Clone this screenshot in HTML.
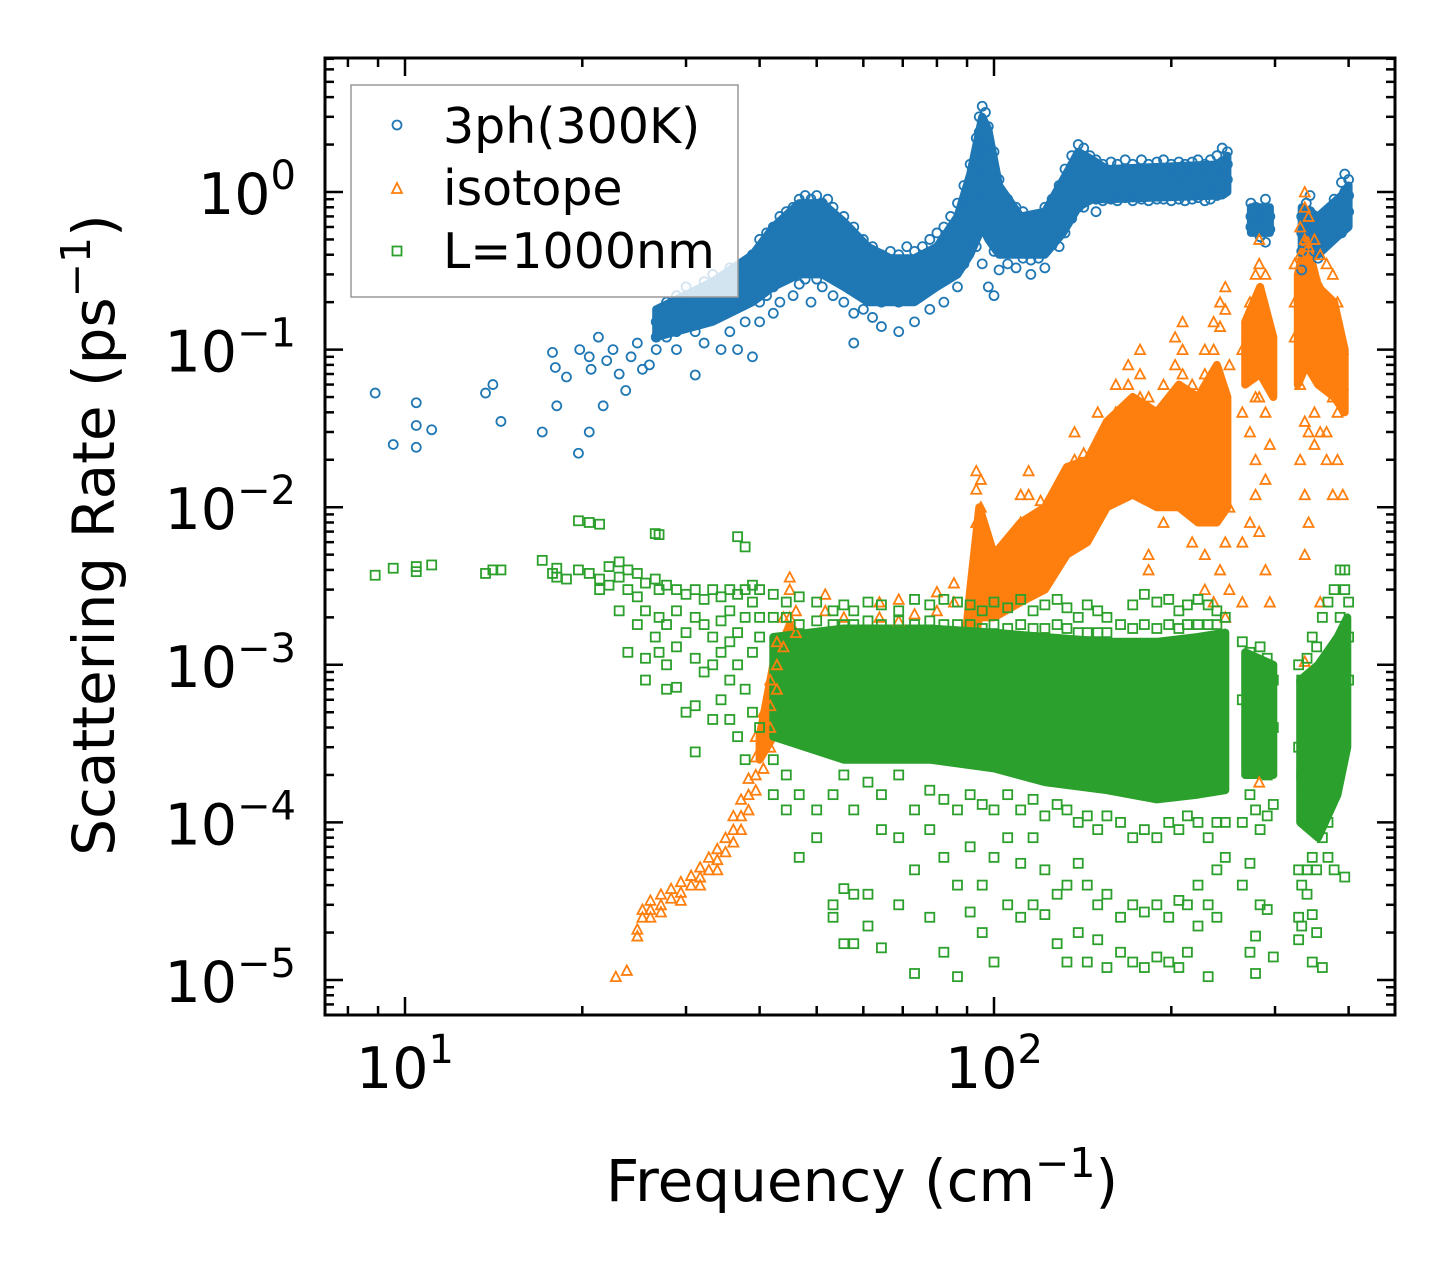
<!DOCTYPE html>
<html><head><meta charset="utf-8"><style>
html,body{margin:0;padding:0;background:#fff}
svg{display:block;font-family:"DejaVu Sans","Liberation Sans",sans-serif}
</style></head><body>
<svg id="chart" width="1455" height="1265" viewBox="0 0 1455 1265" xmlns="http://www.w3.org/2000/svg">
<rect width="1455" height="1265" fill="#fff"/>
<g id="cores"></g>
<g id="marks"></g>
<g id="ticks"></g>
<rect x="325" y="58" width="1070" height="957" fill="none" stroke="#000" stroke-width="3"/>
<g id="labels"></g>
<text x="862" y="1201" text-anchor="middle" font-size="58">Frequency (cm<tspan font-size="41" dy="-24">−1</tspan><tspan dy="24">)</tspan></text>
<text transform="translate(114,535) rotate(-90)" text-anchor="middle" font-size="58">Scattering Rate (ps<tspan font-size="41" dy="-24">−1</tspan><tspan dy="24">)</tspan></text>
<g>
<rect x="351" y="85" width="387" height="212" fill="#fff" fill-opacity="0.8" stroke="#999" stroke-width="1.5"/>
<circle cx="397" cy="125" r="4.5" fill="none" stroke="#1f77b4" stroke-width="1.8"/>
<text x="443" y="143" font-size="49">3ph(300K)</text>
<path d="M397,183 L402,193 L392,193 Z" fill="none" stroke="#ff7f0e" stroke-width="1.8"/>
<text x="443" y="205" font-size="49">isotope</text>
<rect x="392.5" y="246.5" width="9" height="9" fill="none" stroke="#2ca02c" stroke-width="1.8"/>
<text x="443" y="268" font-size="49">L=1000nm</text>
</g>
</svg>
<script>
const xTickValues=[10,100];
const xTickLabels=["1","2"];
const yTickValues=[1,0.1,0.01,0.001,0.0001,0.00001];
const yTickLabels=["0","−1","−2","−3","−4","−5"];

const blueCore1=[[26.7,0.12,0.18],[33.3,0.15,0.27],[38.9,0.2,0.4],[42.2,0.25,0.6],[46.7,0.3,0.85],[51.1,0.3,0.85],[55.6,0.25,0.65],[61.1,0.2,0.45],[66.7,0.2,0.38],[73.3,0.2,0.38],[80,0.25,0.45],[86.7,0.3,0.7],[91.1,0.4,1.3],[95.5,0.6,3.0],[97.8,0.5,2.5],[102,0.4,1.1],[111,0.4,0.7],[122,0.4,0.75],[131,0.55,1.2],[139,0.8,1.8],[147,0.9,1.6],[155.5,0.9,1.4],[244,0.95,1.5],[249,1.0,1.7]];
const blueCore2=[[273,0.55,0.8],[294,0.55,0.8]];
const blueCore3=[[333,0.4,0.8],[355,0.4,0.7],[389,0.55,0.95],[400,0.6,1.1]];
const orangeCore1=[[40,2.5e-4,3.5e-4],[42.2,3.5e-4,1e-3],[45,4.5e-4,1.8e-3],[49,4.5e-4,1.1e-3],[66.7,4.5e-4,1.1e-3],[89,5e-4,1.2e-3],[91.1,1e-3,3e-3],[94.4,2e-3,1e-2],[100,2e-3,5e-3],[111,2.5e-3,8e-3],[122,3e-3,1e-2],[133,5e-3,1.8e-2],[144,6e-3,2e-2],[155.5,1e-2,3.5e-2],[172,1.2e-2,5e-2],[189,1e-2,4e-2],[206,1e-2,6e-2],[222,8e-3,5e-2],[239,8e-3,8e-2],[249,1e-2,5e-2]];
const orangeCore2=[[267,0.06,0.15],[283,0.07,0.25],[298,0.05,0.12]];
const orangeCore3=[[328,0.06,0.3],[339,0.08,0.5],[355,0.06,0.25],[378,0.05,0.2],[394,0.04,0.1]];
const greenCore1=[[42.2,3.5e-4,1.5e-3],[55.6,2.5e-4,1.7e-3],[77.8,2.5e-4,1.7e-3],[100,2.2e-4,1.6e-3],[122,1.8e-4,1.5e-3],[155.5,1.6e-4,1.4e-3],[189,1.4e-4,1.4e-3],[222,1.5e-4,1.5e-3],[247,1.6e-4,1.6e-3]];
const greenCore2=[[267,2e-4,1.2e-3],[298,2e-4,1e-3]];
const greenCore3=[[331,1e-4,8e-4],[355,8e-5,1e-3],[383,1.5e-4,1.5e-3],[398,3e-4,2e-3]];

const blue3ph=[[8.9,[0.053]],[9.55,[0.025]],[10.45,[0.046,0.033,0.024]],[11.1,[0.031]],[13.7,[0.053]],[14.1,[0.06]],[14.55,[0.035]],[17.1,[0.03]],[17.8,[0.096]],[18,[0.077]],[18.1,[0.044]],[18.8,[0.067]],[19.7,[0.022]],[19.8,[0.1]],[20.55,[0.03,0.09]],[20.7,[0.075]],[21.3,[0.12]],[21.7,[0.044]],[22,[0.085]],[22.55,[0.1]],[23.1,[0.07]],[23.7,[0.055]],[24.2,[0.09]],[24.8,[0.11]],[25.3,[0.075]],[26,[0.08]],
[26.7,[0.15,0.12,0.1]],[27.8,[0.2,0.15,0.12]],[28.9,[0.22,0.17,0.13,0.1]],[30,[0.25,0.19,0.14]],[31.1,[0.22,0.17,0.13,0.069]],[32.2,[0.27,0.2,0.15,0.11]],[33.3,[0.3,0.23,0.17]],[34.4,[0.28,0.21,0.1]],[35.6,[0.33,0.25,0.18,0.13]],[36.7,[0.3,0.22,0.1]],[37.8,[0.35,0.27,0.2,0.15]],[38.9,[0.4,0.3,0.22,0.09]],[40,[0.5,0.38,0.28,0.2,0.15]],[41.1,[0.55,0.42,0.3,0.22]],[42.2,[0.6,0.45,0.33,0.25,0.17]],[43.3,[0.7,0.52,0.38,0.28,0.2]],[44.4,[0.75,0.57,0.42,0.3]],[45.6,[0.8,0.6,0.45,0.33,0.22]],[46.7,[0.9,0.68,0.5,0.37,0.26]],[47.8,[0.95,0.72,0.54,0.4,0.28]],[48.9,[0.9,0.7,0.52,0.38,0.2]],[50,[0.95,0.75,0.55,0.4,0.28]],[51.1,[0.85,0.65,0.5,0.36,0.25]],[52.2,[0.9,0.7,0.52,0.38]],[53.3,[0.8,0.6,0.45,0.32,0.22]],[55.6,[0.7,0.53,0.4,0.3,0.2]],[57.8,[0.6,0.45,0.34,0.26,0.17,0.11]],[60,[0.5,0.4,0.31,0.24,0.18]],[62.2,[0.45,0.36,0.28,0.22,0.16]],[64.4,[0.4,0.32,0.26,0.2,0.14]],[66.7,[0.42,0.33,0.27,0.21]],[68.9,[0.4,0.32,0.26,0.2,0.13]],[71.1,[0.45,0.36,0.29,0.23]],[73.3,[0.42,0.34,0.27,0.21,0.15]],[75.6,[0.45,0.36,0.29,0.23]],[77.8,[0.5,0.4,0.32,0.25,0.18]],[80,[0.55,0.43,0.34,0.27]],[82.2,[0.6,0.47,0.36,0.28,0.2]],[84.4,[0.7,0.55,0.42,0.32]],[86.7,[0.85,0.65,0.5,0.38,0.25]],[88.9,[1.1,0.85,0.65,0.48,0.35]],[91.1,[1.5,1.15,0.85,0.62,0.45]],[93.3,[2.2,1.7,1.25,0.9,0.65,0.45]],[94.4,[3.0,2.4,1.8,1.3,0.9,0.6]],[95.5,[3.5,2.8,2.1,1.5,1.05,0.7,0.35]],[96.7,[3.2,2.5,1.9,1.4,1.0,0.7]],[97.8,[2.6,2.0,1.5,1.1,0.8,0.55,0.25]],[100,[1.8,1.4,1.05,0.8,0.6,0.42,0.22]],[102,[1.2,0.95,0.75,0.58,0.45,0.32]],[105.5,[0.9,0.72,0.57,0.45,0.35]],[109,[0.8,0.65,0.52,0.42,0.33]],[112,[0.75,0.6,0.48,0.38]],[115.5,[0.7,0.57,0.46,0.37,0.3]],[119,[0.72,0.58,0.47,0.38]],[122,[0.8,0.65,0.52,0.42,0.33]],[125.5,[0.9,0.72,0.58,0.46]],[129,[1.1,0.88,0.7,0.56,0.45]],[132,[1.4,1.1,0.88,0.7,0.55]],[135.5,[1.7,1.35,1.05,0.85,0.68]],[139,[2.0,1.6,1.25,1.0,0.8]],[142,[1.9,1.55,1.25,1.0,0.8]],[145.5,[1.7,1.4,1.15,0.95]],[149,[1.6,1.35,1.1,0.9,0.75]],[153,[1.5,1.25,1.05,0.88]],[158,[1.55,1.3,1.1,0.9]],[162,[1.5,1.25,1.05,0.88]],[167,[1.6,1.35,1.1,0.92]],[172,[1.5,1.25,1.05,0.88]],[178,[1.6,1.3,1.1,0.9]],[183,[1.5,1.25,1.05,0.88]],[189,[1.55,1.3,1.08,0.9]],[194,[1.6,1.32,1.1,0.9]],[200,[1.5,1.25,1.05,0.88]],[206,[1.55,1.3,1.1,0.9]],[211,[1.5,1.25,1.05,0.88]],[217,[1.55,1.28,1.08,0.9]],[222,[1.6,1.3,1.1,0.92]],[228,[1.5,1.25,1.05,0.88]],[233,[1.6,1.32,1.1,0.9]],[239,[1.7,1.4,1.15,0.95]],[244,[1.9,1.55,1.25,1.0]],[249,[1.8,1.5,1.2]],
[273,[0.85,0.7,0.6]],[278,[0.8,0.68,0.58]],[283,[0.75,0.62,0.52]],[289,[0.9,0.7,0.58,0.48]],[294,[0.7,0.58]],[333,[0.7,0.55,0.42,0.32]],[339,[0.85,0.65,0.5]],[344,[0.95,0.75,0.58,0.45]],[350,[0.7,0.55,0.42]],[355,[0.6,0.48,0.38]],[367,[0.75,0.6,0.48]],[378,[0.9,0.7,0.55]],[389,[1.15,0.9,0.7,0.55]],[394,[1.3,1.0,0.78,0.6]],[400,[1.2,0.95,0.75]]];

const orangeIso=[[22.8,[1.05e-5]],[23.8,[1.15e-5]],[24.8,[1.9e-5,2.1e-5]],[25.3,[2.5e-5,2.8e-5]],[26.1,[2.8e-5,3.2e-5,2.5e-5]],[27.2,[3e-5,3.5e-5,2.7e-5]],[28.3,[3.3e-5,3.8e-5]],[29.4,[3.6e-5,4.2e-5,3.2e-5]],[30.6,[4e-5,4.6e-5]],[31.7,[4.5e-5,5.2e-5,4e-5]],[32.8,[5e-5,6e-5]],[33.9,[5.8e-5,6.8e-5,5e-5]],[35,[6.5e-5,8e-5]],[36.1,[7.5e-5,9e-5,1.1e-4]],[37.2,[9e-5,1.1e-4,1.4e-4]],[38.3,[1.2e-4,1.5e-4,1.9e-4]],[39.4,[1.6e-4,2e-4,2.6e-4,3.5e-4]],[40.6,[2.2e-4,3e-4,4e-4,5e-4]],[41.7,[3e-4,4e-4,5.5e-4,8e-4]],[42.8,[7e-4,1e-3,1.4e-3]],[43.9,[1.3e-3,2e-3]],[45,[2e-3,3e-3,3.6e-3]],[46.1,[2.2e-3,1.6e-3]],[51.7,[2.8e-3,2.2e-3]],[55.6,[2e-3]],[63.9,[2.5e-3,2e-3]],[68.9,[2.6e-3,1.9e-3]],[73.3,[2.1e-3]],[80,[2.9e-3,2.2e-3]],[85.5,[3.3e-3,2.5e-3]],[93.3,[1.7e-2,1.3e-2,8e-3]],[95,[1.5e-2,1e-2]],[97.8,[6e-3,4e-3]],[105.5,[6e-3,4.5e-3]],[111,[1.2e-2,8e-3]],[114.5,[1.7e-2,1.2e-2]],[120,[1.1e-2,7e-3]],[128,[1.4e-2,9e-3]],[137,[3e-2,2e-2]],[142,[2.2e-2,1.6e-2]],[150,[4e-2,2.5e-2]],[161,[6e-2,4e-2]],[169,[8e-2,6e-2]],[177,[0.1,0.07,0.05]],[183,[5e-2,3e-2,5e-3,4e-3]],[194,[6e-2,3e-2,8e-3]],[203,[0.12,0.08]],[209,[0.15,0.1,0.07]],[217,[0.06,0.04,6e-3]],[228,[0.1,0.07,5e-3,3e-3]],[236,[0.15,0.1,2.5e-3]],[242,[0.2,0.14,4e-3]],[247,[0.25,0.18,2e-3,6e-3]],[251,[0.08,0.01,3e-3]],[264,[0.1,0.04,2.5e-3,6e-3]],[272,[0.2,0.1,0.03,8e-3]],[278,[0.3,0.15,0.05,0.02,0.012]],[282,[0.5,0.35,0.2,0.05,7e-3,1.8e-4]],[289,[0.3,0.15,0.04,0.015,4e-3]],[294,[0.12,0.08,0.025,2.5e-3]],[324,[0.35,0.2,0.12]],[331,[0.6,0.4,0.25,0.06,0.02]],[337,[1.0,0.8,0.5,0.15,0.035,0.012,5e-3,1.05e-3]],[342,[0.7,0.45,0.2,0.03,8e-3]],[350,[0.5,0.3,0.12,0.04,0.025]],[358,[0.4,0.25,0.1,0.03,2.5e-3]],[367,[0.35,0.2,0.07,0.03,0.02]],[376,[0.3,0.15,0.05,0.012]],[383,[0.2,0.12,0.04,0.02]],[391,[0.1,0.06,0.012]]];

const greenBdy=[[8.9,[3.7e-3]],[9.55,[4.1e-3]],[10.45,[3.9e-3,4.2e-3]],[11.1,[4.3e-3]],[13.7,[3.8e-3]],[14.1,[4e-3]],[14.55,[4e-3]],[17.1,[4.6e-3]],[17.8,[3.8e-3]],[18.1,[4.1e-3,3.6e-3]],[18.8,[3.5e-3]],[19.7,[8.2e-3,4e-3]],[20.55,[8e-3,3.8e-3]],[21.4,[7.8e-3,3.5e-3,3e-3]],[22.2,[4.2e-3,3.2e-3]],[23.1,[4.5e-3,3.6e-3,2.2e-3]],[23.9,[4e-3,3e-3,1.2e-3]],[24.8,[3.8e-3,2.7e-3,1.8e-3]],[25.6,[3.3e-3,2.2e-3,1.1e-3,8e-4]],[26.6,[6.8e-3,3.5e-3,1.5e-3]],[27,[6.7e-3,3e-3,2e-3,1.2e-3]],[27.8,[3.2e-3,1.8e-3,1e-3,7e-4]],[28.9,[3e-3,2.2e-3,1.3e-3,7.2e-4]],[30,[2.8e-3,1.6e-3,5e-4]],[31.1,[3e-3,2e-3,1.1e-3,5.5e-4,2.8e-4]],[32.2,[2.6e-3,1.8e-3,9e-4]],[33.3,[3e-3,1.5e-3,1e-3,4.5e-4]],[34.4,[2.7e-3,1.9e-3,1.2e-3,6e-4]],[35.6,[3e-3,2.2e-3,1.4e-3,8e-4,4.5e-4]],[36.7,[6.5e-3,2.8e-3,1.6e-3,1e-3,3.5e-4]],[37.8,[5.6e-3,3e-3,2e-3,7e-4,2.5e-4]],[38.9,[3.2e-3,2.5e-3,1.2e-3,5e-4]],[40,[3e-3,2e-3,1.5e-3,4e-4]],[42.2,[2.8e-3,2e-3,2.5e-4,1.5e-4]],[44.4,[2.5e-3,2e-3,2e-4,1.2e-4]],[46.7,[2.7e-3,1.8e-3,1.5e-4,6e-5]],[50,[2.5e-3,1.9e-3,1.2e-4,8e-5]],[53.3,[2.2e-3,1.8e-3,1.5e-4,3e-5,2.5e-5]],[55.6,[2.4e-3,1.8e-3,2e-4,1.7e-5,3.8e-5]],[57.8,[2.2e-3,1.8e-3,1.2e-4,3.5e-5,1.7e-5]],[61.1,[2.5e-3,1.9e-3,1.8e-4,2.2e-5,3.5e-5]],[64.4,[2.4e-3,1.8e-3,1.5e-4,9e-5,1.6e-5]],[68.9,[2.2e-3,1.9e-3,2e-4,8e-5,3e-5]],[73.3,[2.6e-3,1.8e-3,1.2e-4,5e-5,1.1e-5]],[77.8,[2.4e-3,1.9e-3,1.6e-4,9e-5,2.5e-5]],[82.2,[2.6e-3,1.8e-3,1.4e-4,6e-5,1.5e-5]],[86.7,[2.5e-3,1.8e-3,1.2e-4,4e-5,1.05e-5]],[91.1,[2.4e-3,1.8e-3,1.5e-4,7e-5,2.7e-5]],[95.5,[2.2e-3,1.7e-3,1.3e-4,4e-5,2e-5]],[100,[2.5e-3,1.8e-3,1.2e-4,6e-5,1.3e-5]],[105.5,[2.3e-3,1.7e-3,1.5e-4,8e-5,3e-5]],[111,[2.6e-3,1.8e-3,1.2e-4,5.5e-5,2.5e-5]],[116.5,[2.2e-3,1.7e-3,1.4e-4,8e-5,3e-5]],[122,[2.4e-3,1.7e-3,1.1e-4,5e-5,2.6e-5]],[128,[2.6e-3,1.8e-3,1.3e-4,3.5e-5,1.7e-5]],[133,[2.3e-3,1.7e-3,1.2e-4,4e-5,1.3e-5]],[139,[2e-3,1.6e-3,1e-4,5.5e-5,2e-5]],[144,[2.4e-3,1.6e-3,1.1e-4,4e-5,1.3e-5]],[150,[2.2e-3,1.6e-3,9e-5,3e-5,1.8e-5]],[155.5,[2e-3,1.6e-3,1.1e-4,3.5e-5,1.2e-5]],[164,[1.8e-3,1e-4,2.5e-5,1.5e-5]],[172,[2.4e-3,1.7e-3,8e-5,3e-5,1.3e-5]],[180,[2.8e-3,1.8e-3,9e-5,2.7e-5,1.2e-5]],[189,[2.5e-3,1.7e-3,8e-5,3e-5,1.4e-5]],[198,[2.6e-3,1.8e-3,1e-4,2.5e-5,1.3e-5]],[206,[2.2e-3,1.7e-3,9e-5,3.2e-5,1.2e-5]],[213,[2.4e-3,1.8e-3,1.1e-4,3e-5,1.5e-5]],[222,[2.6e-3,1.8e-3,1e-4,4e-5,2.2e-5]],[231,[2.4e-3,1.8e-3,8e-5,3e-5,1.05e-5]],[239,[2.2e-3,1.8e-3,1e-4,5e-5,2.5e-5]],[247,[2e-3,1e-4,6e-5]],[264,[1.4e-3,6e-4,1e-4,4e-5]],[272,[1.2e-3,4e-4,1.5e-4,5.5e-5,1.5e-5]],[278,[1e-3,3e-4,1.2e-4,1.9e-5,1.1e-5]],[283,[1.3e-3,2.5e-4,9e-5,3e-5]],[291,[1.1e-3,2e-4,1.1e-4,2.8e-5]],[298,[8e-4,4e-4,1.3e-4,1.4e-5]],[329,[1e-3,3e-4,5e-5,2.5e-5,1.8e-5]],[333,[8e-4,2e-4,4e-5,2.2e-5]],[340,[1.1e-3,1.5e-4,5e-5,3.5e-5]],[347,[1.5e-3,2.5e-4,6e-5,2.6e-5,1.3e-5]],[353,[1.3e-3,2e-4,5e-5,2e-5]],[361,[2e-3,3e-4,8e-5,1.2e-5]],[369,[2.5e-3,4e-4,1e-4,6e-5]],[378,[3e-3,5e-4,1.5e-4,5e-5]],[387,[4e-3,2e-3,5e-4,2.5e-4]],[394,[4e-3,3e-3,1e-3,4e-4,4.5e-5]],[400,[2.5e-3,1.5e-3,8e-4]]];

const NS="http://www.w3.org/2000/svg";
const X0=405, XD=589, Y0=192, YD=157.6, L=325, R=1395, T=58, B=1015;
function X(f){return X0+XD*(Math.log10(f)-1);}
function Y(r){return Y0-YD*Math.log10(r);}
function mk(tag,parent){const e=document.createElementNS(NS,tag);parent.appendChild(e);return e;}
const cores=document.getElementById('cores'), marks=document.getElementById('marks'), ticks=document.getElementById('ticks'), labels=document.getElementById('labels');

function drawCore(arr,color,name){
  const top=arr.map(d=>X(d[0]).toFixed(1)+','+Y(d[2]).toFixed(1));
  const bot=arr.slice().reverse().map(d=>X(d[0]).toFixed(1)+','+Y(d[1]).toFixed(1));
  const p=mk('polygon',cores);
  p.setAttribute('points',top.concat(bot).join(' '));
  p.setAttribute('fill',color);p.setAttribute('stroke',color);p.setAttribute('stroke-width','8');p.setAttribute('stroke-linejoin','round');
  
  
}
function drawSeries(data,kind,color,name){
  const g=mk('g',marks);
  
  
  g.setAttribute('fill','none');g.setAttribute('stroke',color);g.setAttribute('stroke-width','1.8');
  data.forEach(col=>{col[1].forEach(v=>{
    const x=X(col[0]), y=Y(v); let e;
    if(kind==='c'){e=mk('circle',g);e.setAttribute('cx',x);e.setAttribute('cy',y);e.setAttribute('r',4.5);}
    else if(kind==='t'){e=mk('path',g);e.setAttribute('d',`M${x},${y-5}L${x+5},${y+4.5}L${x-5},${y+4.5}Z`);}
    else {e=mk('rect',g);e.setAttribute('x',x-4.5);e.setAttribute('y',y-4.5);e.setAttribute('width',9);e.setAttribute('height',9);}
    
    
  });});
}
drawCore(blueCore1,'#1f77b4','blue-core-1');drawCore(blueCore2,'#1f77b4','blue-core-2');drawCore(blueCore3,'#1f77b4','blue-core-3');
drawSeries(blue3ph,'c','#1f77b4','series-3ph');
drawCore(orangeCore1,'#ff7f0e','orange-core-1');drawCore(orangeCore2,'#ff7f0e','orange-core-2');drawCore(orangeCore3,'#ff7f0e','orange-core-3');
drawSeries(orangeIso,'t','#ff7f0e','series-isotope');
drawCore(greenCore1,'#2ca02c','green-core-1');drawCore(greenCore2,'#2ca02c','green-core-2');drawCore(greenCore3,'#2ca02c','green-core-3');
drawSeries(greenBdy,'s','#2ca02c','series-boundary');

function line(x1,y1,x2,y2,name){const l=mk('line',ticks);l.setAttribute('x1',x1);l.setAttribute('y1',y1);l.setAttribute('x2',x2);l.setAttribute('y2',y2);l.setAttribute('stroke','#000');l.setAttribute('stroke-width','2.5');
  
  }
for(let d=0;d<3;d++){for(let k=1;k<10;k++){const f=k*Math.pow(10,d);const x=X(f);if(x<L||x>R)continue;const len=(k===1)?18:9;line(x,B,x,B-len,'x-tick');line(x,T,x,T+len,'x-tick-top');}}
for(let d=-6;d<1;d++){for(let k=1;k<10;k++){const v=k*Math.pow(10,d);const y=Y(v);if(y<T||y>B)continue;const len=(k===1)?18:9;line(L,y,L+len,y,'y-tick');line(R,y,R-len,y,'y-tick-right');}}
xTickValues.forEach((v,i)=>{const t=mk('text',labels);t.setAttribute('x',X(v));t.setAttribute('y',1088);t.setAttribute('text-anchor','middle');t.setAttribute('font-size','57');
  t.innerHTML='10<tspan font-size="40" dy="-25">'+xTickLabels[i]+'</tspan>';
  
  });
yTickValues.forEach((v,i)=>{const t=mk('text',labels);t.setAttribute('x',296);t.setAttribute('y',Y(v)+22);t.setAttribute('text-anchor','end');t.setAttribute('font-size','57');
  t.innerHTML='10<tspan font-size="40" dy="-25">'+yTickLabels[i]+'</tspan>';
  
  });
</script>
</body></html>
